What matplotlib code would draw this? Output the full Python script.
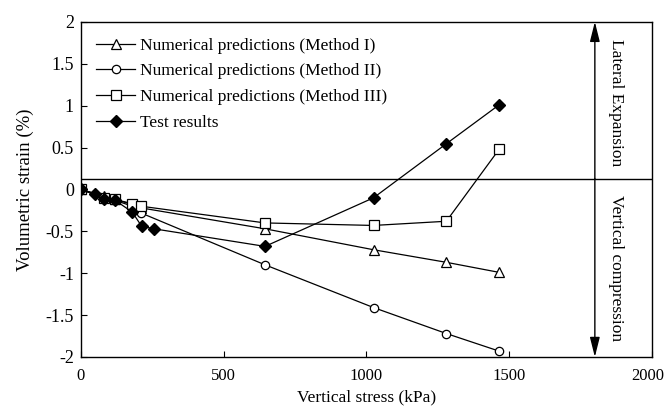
import numpy as np
import matplotlib.pyplot as plt
from matplotlib.transforms import ScaledTranslation

plt.rcParams['font.family'] = ['Liberation Serif', 'DejaVu Serif']
plt.rcParams['axes.unicode_minus'] = False

# Vertical stress (kPa)
stress_num = [0, 80, 120, 180, 210, 645, 1025, 1280, 1465]
strain_m1 = [0, -0.08, -0.12, -0.18, -0.22, -0.47, -0.72, -0.87, -0.99]
strain_m2 = [0, -0.10, -0.13, -0.20, -0.28, -0.90, -1.41, -1.72, -1.93]
strain_m3 = [0, -0.10, -0.12, -0.17, -0.20, -0.40, -0.43, -0.38, 0.48]

stress_test = [0, 50, 80, 120, 180, 213, 256, 645, 1025, 1278, 1465]
strain_test = [0, -0.05, -0.12, -0.13, -0.27, -0.44, -0.47, -0.68, -0.10, 0.54, 1.01]

fig = plt.figure(figsize=(6.68, 4.12), dpi=100)
ax = fig.add_axes([0.121, 0.1335, 0.855, 0.8135])

ax.plot(stress_num, strain_m1, color='black', lw=0.9, marker='^', ms=7,
        mfc='white', mec='black', mew=0.9, label='Numerical predictions (Method I)')
ax.plot(stress_num, strain_m2, color='black', lw=0.9, marker='o', ms=6,
        mfc='white', mec='black', mew=0.9, label='Numerical predictions (Method II)')
ax.plot(stress_num, strain_m3, color='black', lw=0.9, marker='s', ms=7,
        mfc='white', mec='black', mew=0.9, label='Numerical predictions (Method III)')
ax.plot(stress_test, strain_test, color='black', lw=0.9, marker='D', ms=6,
        mfc='black', mec='black', label='Test results')

# separator line and arrows
ax.axhline(0.13, color='black', lw=1.0)
arrow = dict(arrowstyle='-|>,head_length=1.2,head_width=0.3', color='black',
             lw=1.0, mutation_scale=10, shrinkA=0, shrinkB=0)
ax.annotate('', xy=(1800, 2.0), xytext=(1800, 0.13), arrowprops=arrow)
ax.annotate('', xy=(1800, -2.0), xytext=(1800, 0.13), arrowprops=arrow)
ax.text(1873, 1.03, 'Lateral Expansion', rotation=-90, ha='center', va='center', fontsize=12.5)
ax.text(1873, -0.94, 'Vertical compression', rotation=-90, ha='center', va='center', fontsize=12.5)

ax.set_xlim(0, 2000)
ax.set_ylim(-2, 2)
ax.set_xticks([0, 500, 1000, 1500, 2000])
ax.set_yticks([-2, -1.5, -1, -0.5, 0, 0.5, 1, 1.5, 2])
ax.set_yticklabels(['-2', '-1.5', '-1', '-0.5', '0', '0.5', '1', '1.5', '2'])
ax.tick_params(direction='in', length=4, labelsize=13, width=0.8)
ax.tick_params(axis='x', pad=8, labelsize=12)
ax.tick_params(axis='y', pad=5)
for s in ax.spines.values():
    s.set_linewidth(1.0)

# keep the last x label inside the picture
last = ax.get_xticklabels()[-1]
last.set_transform(last.get_transform() + ScaledTranslation(-3 / 72, 0, fig.dpi_scale_trans))

ax.set_xlabel('Vertical stress (kPa)', fontsize=12.5, labelpad=4)
ax.set_ylabel('Volumetric strain (%)', fontsize=13.5, labelpad=8)

ax.legend(loc='upper left', frameon=False, fontsize=12.5, handlelength=2.2,
          borderaxespad=0.5, labelspacing=0.55, handletextpad=0.3)

fig.savefig('out.png', dpi=100)
